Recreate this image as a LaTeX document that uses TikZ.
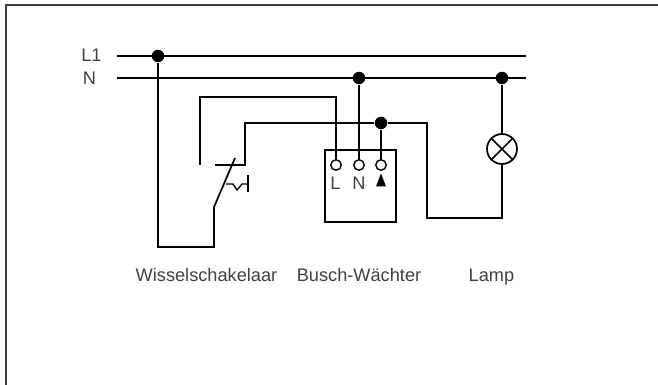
\documentclass[tikz,border=0pt]{standalone}
\usepackage{fontspec}
\usetikzlibrary{shapes.geometric}
\setmainfont{Liberation Sans}
\begin{document}
\begin{tikzpicture}[x=1pt,y=-1pt,line width=1.7pt]
\tikzset{wire/.style = {draw=black,line join=miter},
  dot/.style = {shape=circle,fill=black,inner sep=0pt,minimum size=12.5pt},
  term/.style = {shape=circle,draw=black,fill=white,line width=1.4pt,inner sep=0pt,minimum size=10.5pt},
  lbl/.style = {inner sep=0pt,anchor=base,text=black!75,font=\fontsize{18.2}{18}\selectfont}}
\useasboundingbox (0,0) rectangle (658,385);

\coordinate (fa) at (6,385);
\coordinate (fb) at (6,5);
\coordinate (fc) at (658,5);
\draw[draw=black!75,line width=1.2pt] (fa) -- (fb) -- (fc);

\node[lbl] (tL) at (91.5,62) {L1};
\node[lbl] (tN) at (89.5,85) {N};
\node[lbl] (tS) at (206.5,281) {Wisselschakelaar};
\node[lbl] (tB) at (359,281) {Busch-Wächter};
\node[lbl] (tA) at (491.5,281) {Lamp};

\coordinate (La) at (117,56);
\coordinate (Lb) at (526,56);
\coordinate (Na) at (117,78);
\coordinate (Nb) at (526,78);
\node[dot] (d1) at (158,56) {};
\node[dot] (d2) at (359,78) {};
\node[dot] (d3) at (502,78) {};
\node[dot] (d4) at (381,123) {};

\node[draw=black,inner sep=0pt,minimum width=71pt,minimum height=72pt] (box) at (360.5,186) {};
\node[lbl] (tl) at (335.5,189) {L};
\node[lbl] (tn) at (359,189) {N};
\node[shape=isosceles triangle,shape border rotate=90,fill=black,inner sep=0pt,isosceles triangle stretches,minimum width=10pt,minimum height=13pt] (tri) at (381,183) {};

\node[shape=circle,draw=black,inner sep=0pt,minimum size=30pt] (lamp) at (502,149) {};
\draw[wire] (lamp.north west) -- (lamp.south east);
\draw[wire] (lamp.north east) -- (lamp.south west);

\coordinate (sa) at (214,207);
\coordinate (sb) at (235,158);
\coordinate (sc) at (200,165);
\coordinate (sd) at (215,165);

\draw[wire] (La) -- (Lb);
\draw[wire] (Na) -- (Nb);
\draw[wire] (d1) |- (214,247) -- (sa) -- (sb);
\draw[wire] (sc) -- (200,97) -- (336,97) -- (336,160);
\draw[wire] (d2) -- (359,160);
\draw[wire] (d4) -- (381,160);
\draw[wire] (sd) -- (245,165) -- (245,123) -- (d4) -- (427,123) -- (427,218) -- (502,218) -- (lamp);
\draw[wire] (d3) -- (lamp);
\draw[wire,line width=1.3pt] (226,184) -- (233,184) -- (237,190) -- (242,184) -- (248,184);
\draw[wire] (248,175) -- (248,192);

\node[term] (t1) at (336,165) {};
\node[term] (t2) at (359,165) {};
\node[term] (t3) at (381,165) {};
\end{tikzpicture}
\end{document}
